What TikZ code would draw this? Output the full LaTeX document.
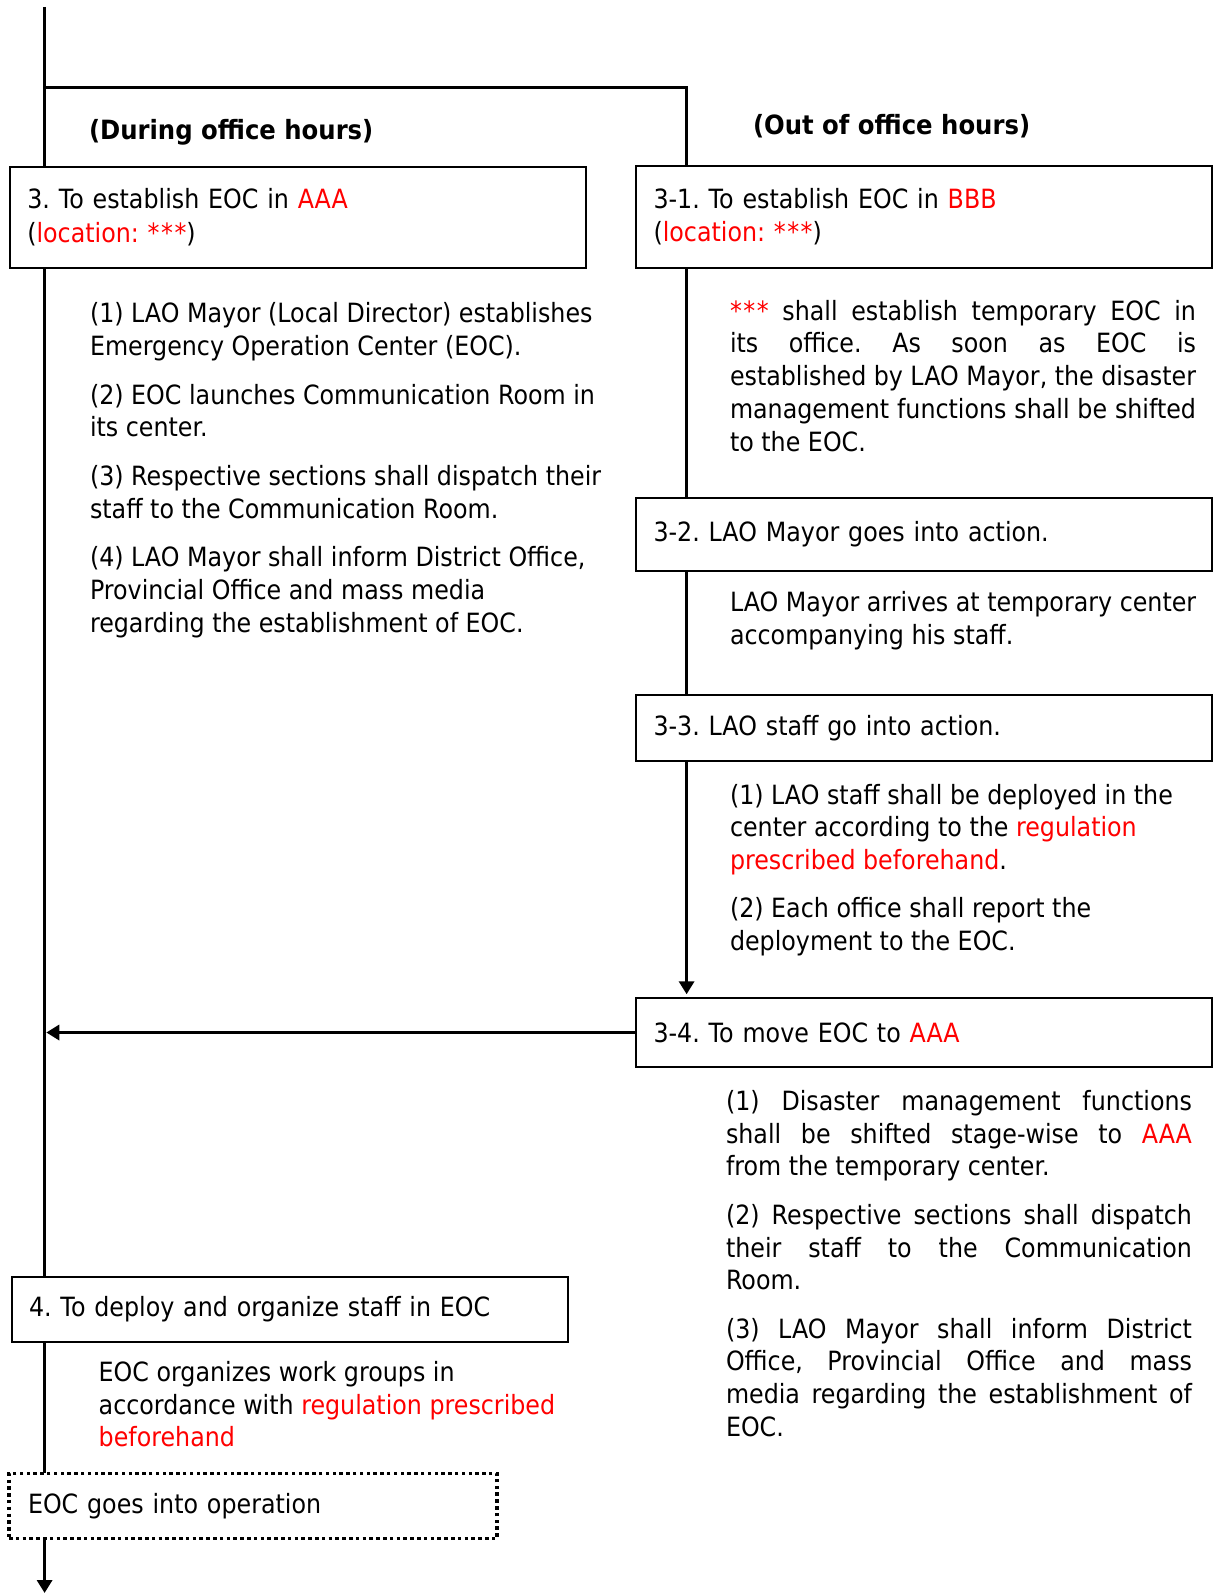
\documentclass[tikz,border=0pt]{standalone}
\usepackage{fontspec}
\setmainfont{DejaVu Sans}[FakeStretch=0.897,BoldFeatures={FakeStretch=0.918}]
\usetikzlibrary{arrows.meta}
\frenchspacing
\newlength\jw \setlength\jw{466pt}
\newcommand\jl[1]{\makebox[\jw][s]{#1}}
\newcommand\rd[1]{\textcolor{red}{#1}}
\newcommand\stars{*\kern1.5pt*\kern1.5pt*}
\newcommand\blk[1]{\begin{tabular}[t]{@{}l@{}}#1\end{tabular}}
\newcommand\fsz[1]{\fontsize{26.5}{#1}\selectfont\frenchspacing}
\begin{document}
\begin{tikzpicture}[x=1pt,y=-1pt,
  conn/.style={line width=3.4pt},
  arr/.style={conn,-{Triangle[length=13pt,width=15pt]}},
  stepbox/.style={draw,line width=2pt,fill=white,anchor=north west,align=left,
    inner xsep=17.5pt,inner ysep=0pt,outer sep=0pt,font=\fsz{33.2}},
  dotbox/.style={stepbox,line width=3.5pt,dash pattern=on 3.5pt off 3.3pt,inner xsep=19pt},
  txt/.style={anchor=base west,inner sep=0pt,outer sep=0pt,font=\fsz{32.7}},
  head/.style={txt,font=\fsz{32.7}\bfseries}
]
\useasboundingbox (0pt,0pt) rectangle (1213pt,-1594pt);

% headings
\node[head] (hL) at (89,139.5) {(During office hours)};
\node[head] (hR) at (753,135) {(Out of office hours)};

% boxes
\node[stepbox,minimum width=575.9pt,minimum height=101pt,text width=540.9pt] (b3) at (9.8,166.7)
  {3. To establish EOC in \rd{AAA}\\(\rd{location: \stars})};
\node[stepbox,minimum width=575.5pt,minimum height=102pt,text width=540.5pt] (b31) at (636,165.7)
  {3-1. To establish EOC in \rd{BBB}\\(\rd{location: \stars})};
\node[stepbox,minimum width=575.5pt,minimum height=72.4pt,text width=540.5pt] (b32) at (636,498.3)
  {3-2. LAO Mayor goes into action.};
\node[stepbox,minimum width=575.5pt,minimum height=66pt,text width=540.5pt] (b33) at (636,695)
  {3-3. LAO staff go into action.};
\node[stepbox,minimum width=575.5pt,minimum height=68.4pt,text width=540.5pt] (b34) at (636,998.3)
  {3-4. To move EOC to \rd{AAA}};
\node[stepbox,minimum width=556.5pt,minimum height=65.6pt,text width=521.5pt] (b4) at (11.5,1276.7)
  {4. To deploy and organize staff in EOC};
\node[dotbox,minimum width=488pt,minimum height=65pt,text width=450pt] (bop) at (9,1473.3)
  {EOC goes into operation};

% texts
\node[txt] (pL) at (90,323) {\blk{%
  (1) LAO Mayor (Local Director) establishes\\
  Emergency Operation Center (EOC).\\[15.8pt]
  (2) EOC launches Communication Room in\\
  its center.\\[15.8pt]
  (3) Respective sections shall dispatch their\\
  staff to the Communication Room.\\[15.8pt]
  (4) LAO Mayor shall inform District Office,\\
  Provincial Office and mass media\\
  regarding the establishment of EOC.}};

\node[txt,font=\fsz{32.9}] (p31) at (730,320) {\blk{%
  \jl{\rd{\stars} shall establish temporary EOC in}\\
  \jl{its office. As soon as EOC is}\\
  \jl{established by LAO Mayor, the disaster}\\
  \jl{management functions shall be shifted}\\
  to the EOC.}};

\node[txt,font=\fsz{33}] (p32) at (730,611) {\blk{%
  LAO Mayor arrives at temporary center\\
  accompanying his staff.}};

\node[txt] (p33) at (730,804) {\blk{%
  (1) LAO staff shall be deployed in the\\
  center according to the \rd{regulation}\\
  \rd{prescribed beforehand}.\\[15.3pt]
  (2) Each office shall report the\\
  deployment to the EOC.}};

\node[txt,font=\fsz{32.6}] (p34) at (726,1110.7) {\blk{%
  \jl{(1) Disaster management functions}\\
  \jl{shall be shifted stage-wise to \rd{AAA}}\\
  from the temporary center.\\[16pt]
  \jl{(2) Respective sections shall dispatch}\\
  \jl{their staff to the Communication}\\
  Room.\\[16pt]
  \jl{(3) LAO Mayor shall inform District}\\
  \jl{Office, Provincial Office and mass}\\
  \jl{media regarding the establishment of}\\
  EOC.}};

\node[txt,font=\fsz{32.4}] (p4) at (98.7,1381.7) {\blk{%
  EOC organizes work groups in\\
  accordance with \rd{regulation prescribed}\\
  \rd{beforehand}}};

% connectors
\coordinate (tl) at (44.6,7);
\coordinate (jn) at (44.6,87.3);
\coordinate (tr) at (686.6,87.3);
\coordinate (bl) at (44.6,1593);
\draw[conn] (tl) -- (tl |- b3.north);
\draw[conn] (jn) -- (tr) -- (tr |- b31.north);
\draw[conn] (b3.south -| tl) -- (b4.north -| tl);
\draw[conn] (b4.south -| tl) -- (bop.north -| tl);
\draw[arr] (bop.south -| tl) -- (bl);
\draw[conn] (b31.south -| tr) -- (b32.north -| tr);
\draw[conn] (b32.south -| tr) -- (b33.north -| tr);
\draw[arr,shorten >=4pt] (b33.south -| tr) -- (b34.north -| tr);
\draw[arr,shorten >=1.7pt] (b34.west) -- (b34.west -| tl);
\end{tikzpicture}
\end{document}
